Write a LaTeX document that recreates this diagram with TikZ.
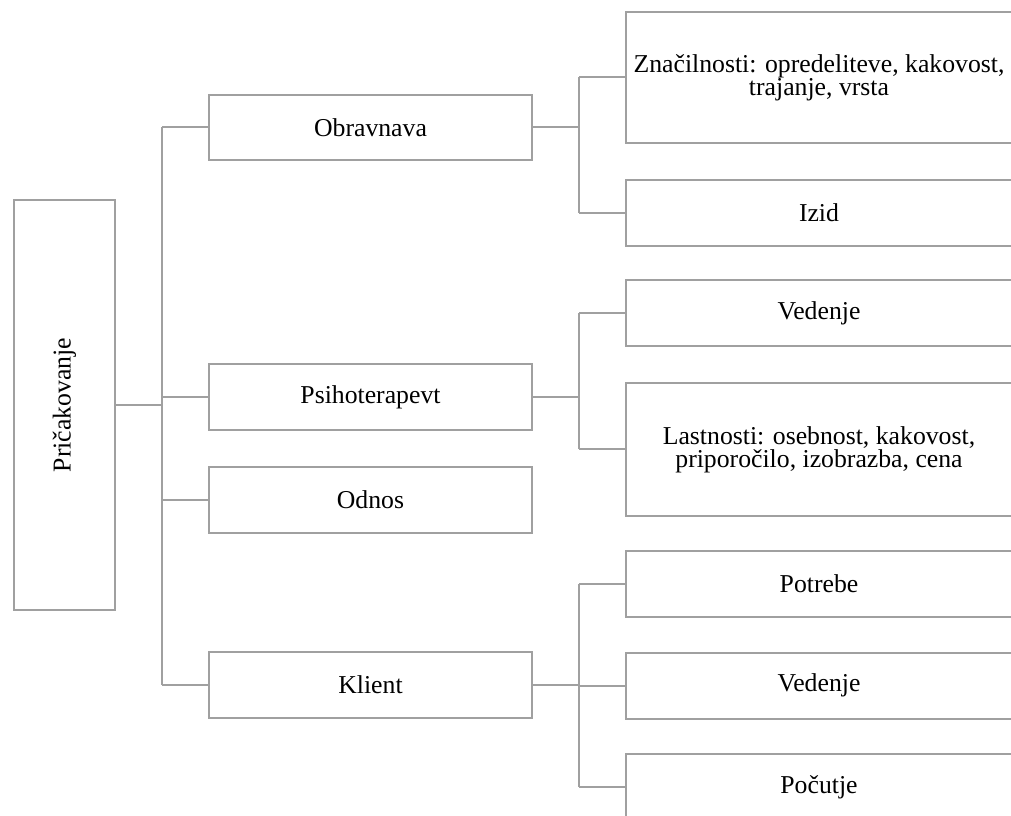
\documentclass[tikz,border=0pt]{standalone}
\usepackage{fontspec}
\setmainfont{Liberation Serif}
\begin{document}
\begin{tikzpicture}[x=0.75pt,y=-0.75pt,
  txt/.style={font=\fontsize{19.3}{17.5}\selectfont},
  box/.style={draw=linegray,line width=1.5pt,fill=white,inner sep=0pt,align=center,txt},
  mid/.style={box,minimum width=242.25pt,minimum height=49pt},
  leaf/.style={box,minimum width=289.5pt,minimum height=49.5pt},
  conn/.style={draw=linegray,line width=1.5pt}]
\definecolor{linegray}{RGB}{160,160,160}
\useasboundingbox (0,0) rectangle (1011,816);
\clip (0,0) rectangle (1011,816);

% root
\node[box,minimum width=75.75pt,minimum height=307.5pt] (root) at (64.5,405) {};
\node[rotate=90,txt] (roottext) at (root.center) {Pričakovanje};

% second level
\node[mid] (obr) at (370.5,127.5) {Obravnava};
\node[mid] (psi) at (370.5,397) {Psihoterapevt};
\node[mid] (odn) at (370.5,500) {Odnos};
\node[mid] (kli) at (370.5,685) {Klient};

% third level
\node[leaf,minimum height=98.25pt] (zna) at (819,77.5) {Značilnosti: opredeliteve, kakovost,\\trajanje, vrsta};
\node[leaf] (izid) at (819,213) {Izid};
\node[leaf] (ved1) at (819,313.5) {Vedenje};
\node[leaf,minimum height=99.75pt] (last) at (819,449.5) {Lastnosti: osebnost, kakovost,\\priporočilo, izobrazba, cena};
\node[leaf] (potr) at (819,584) {Potrebe};
\node[leaf] (ved2) at (819,685.5) {Vedenje};
\node[leaf] (pocu) at (819,787) {Počutje};

% trunk lines
\coordinate (t) at (162,0);
\coordinate (s) at (579,0);

\draw[conn] (root.east) -- (root.east -| t);
\draw[conn] (t |- obr.west) -- (t |- kli.west);
\foreach \n in {obr,psi,odn,kli}
  \draw[conn] (t |- \n.west) -- (\n.west);

% Obravnava branch
\draw[conn] (obr.east) -- (obr.east -| s);
\draw[conn] (s |- zna.west) -- (s |- izid.west);
\foreach \n in {zna,izid}
  \draw[conn] (s |- \n.west) -- (\n.west);

% Psihoterapevt branch
\draw[conn] (psi.east) -- (psi.east -| s);
\draw[conn] (s |- ved1.west) -- (s |- last.west);
\foreach \n in {ved1,last}
  \draw[conn] (s |- \n.west) -- (\n.west);

% Klient branch
\draw[conn] (kli.east) -- (kli.east -| s);
\draw[conn] (s |- potr.west) -- (s |- pocu.west);
\foreach \n in {potr,ved2,pocu}
  \draw[conn] (s |- \n.west) -- (\n.west);
\end{tikzpicture}
\end{document}
